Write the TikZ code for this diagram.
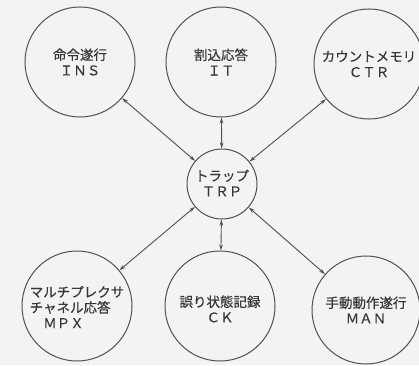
\documentclass[tikz,border=0pt]{standalone}
\usepackage{fontspec}
\newfontfamily\cjk[FakeBold=0.4]{Noto Sans CJK JP}
\usetikzlibrary{arrows.meta}
\definecolor{paper}{RGB}{243,243,241}
\definecolor{ink}{RGB}{80,80,80}
\definecolor{txtc}{RGB}{55,55,55}
\tikzset{
  bigc/.style={circle, draw=ink, line width=1pt, minimum size=110pt, inner sep=0pt},
  smallc/.style={circle, draw=ink, line width=1pt, minimum size=70pt, inner sep=0pt},
  lbl/.style={font=\cjk\fontsize{13.5}{15.5}\selectfont, text=txtc, align=center, inner sep=0pt},
  lbll/.style={font=\cjk\fontsize{13.5}{15.5}\selectfont, text=txtc, align=left, inner sep=0pt},
  link/.style={draw=ink, line width=0.9pt, {Stealth[length=6pt,width=3.6pt]}-{Stealth[length=6pt,width=3.6pt]}}
}
\begin{document}
\begin{tikzpicture}[x=1pt,y=1pt]
\fill[paper] (0,0) rectangle (419,365);
\useasboundingbox (0,0) rectangle (419,365);
\node[bigc] (ins) at (80,303) {};
\node[bigc] (it) at (221,303) {};
\node[bigc] (ctr) at (369,301) {};
\node[smallc] (trp) at (222,181) {};
\node[bigc] (mpx) at (77,59) {};
\node[bigc] (ck) at (220,59) {};
\node[bigc, minimum size=108pt] (man) at (366,55) {};
\node[lbl] (insT) at (ins) {命令遂行\\ＩＮＳ};
\node[lbl] (itT) at (it) {割込応答\\ＩＴ};
\node[lbl] (ctrT) at (ctr) {カウントメモリ\\ＣＴＲ};
\node[lbl] (trpT) at ([yshift=1pt]trp) {トラップ\\ＴＲＰ};
\node[lbll] (mpxT) at ([yshift=-1pt]mpx) {マルチプレクサ\\チャネル応答\\　ＭＰＸ};
\node[lbl] (ckT) at ([yshift=-3pt]ck) {誤り状態記録\\ＣＫ};
\node[lbl] (manT) at (man) {手動動作遂行\\ＭＡＮ};
\draw[link] (trp) -- (ins);
\draw[link] (trp) -- (it);
\draw[link] (trp) -- (ctr);
\draw[link] (trp) -- (mpx);
\draw[link] (trp) -- (ck);
\draw[link] (trp) -- (man);
\end{tikzpicture}
\end{document}
